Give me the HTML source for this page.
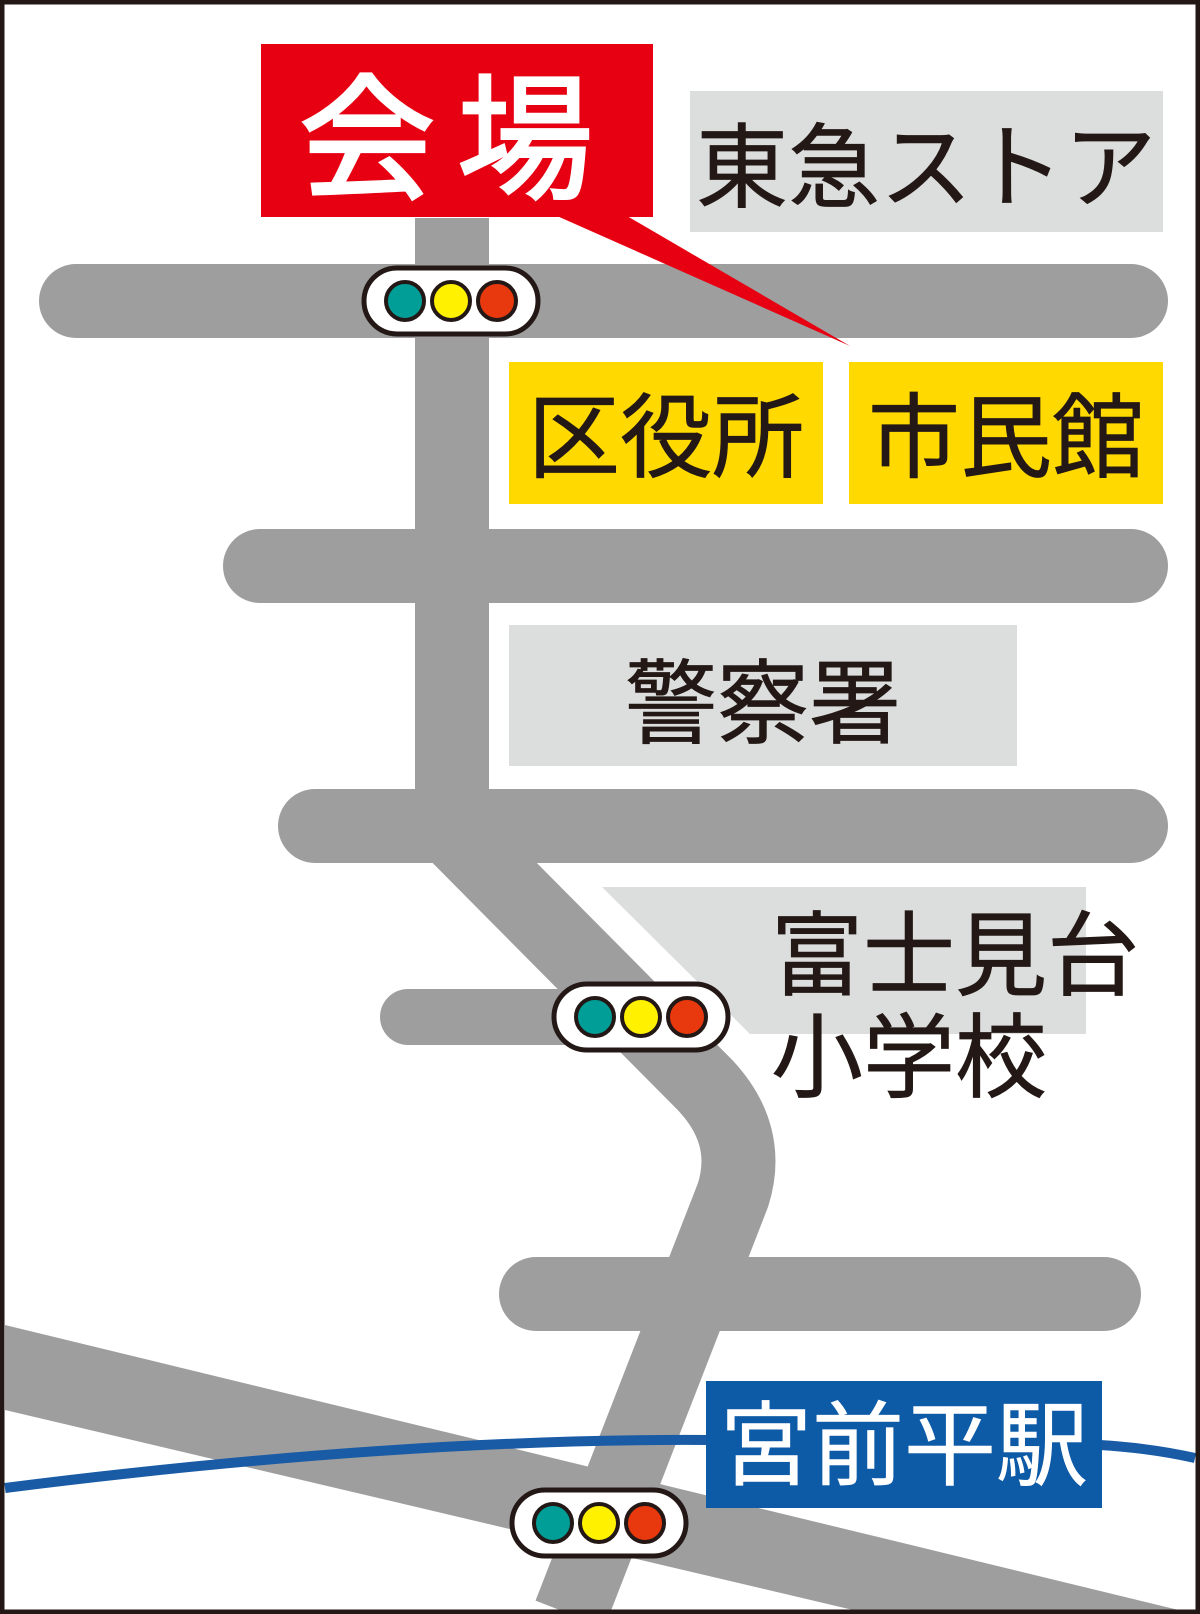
<!DOCTYPE html>
<html><head><meta charset="utf-8"><style>
html,body{margin:0;padding:0;background:#fff}
svg{display:block}
text{font-family:"Liberation Sans","Noto Sans CJK JP",sans-serif;font-weight:400}
.d{fill:#231815;stroke:#231815;stroke-width:0.8}
.w{fill:#fff;stroke:#fff;stroke-width:0.6}
</style></head><body>
<svg width="1200" height="1614" viewBox="0 0 1200 1614" xmlns="http://www.w3.org/2000/svg" style="position:absolute;left:0;top:0">
<rect x="0" y="0" width="1200" height="1614" fill="#fff"/>
<g stroke="#9e9e9e" stroke-linecap="round" fill="none">
<line x1="76" y1="301" x2="1131" y2="301" stroke-width="74"/>
<line x1="260" y1="566" x2="1131" y2="566" stroke-width="74"/>
<line x1="315" y1="826" x2="1131" y2="826" stroke-width="74"/>
<line x1="408" y1="1017" x2="700" y2="1017" stroke-width="56"/>
<line x1="536" y1="1294" x2="1104" y2="1294" stroke-width="74"/>
</g>
<path d="M452 218 V830 L705 1085 Q752 1135 733 1195 L570 1614" stroke="#9e9e9e" stroke-width="74" fill="none" stroke-linejoin="round"/>
<polygon points="5,1325 5,1410 870,1614 1195,1614" fill="#9e9e9e"/>
<path d="M5 1488 Q 400 1438 710 1440 L1100 1445 Q 1150 1448 1195 1458" stroke="#1a5ba6" stroke-width="10" fill="none"/>
<rect x="690" y="91" width="473" height="141" fill="#dcdddd"/>
<text x="926" y="200" font-size="92" text-anchor="middle" class="d">東急ストア</text>
<rect x="509" y="362" width="314" height="142" fill="#ffd900"/>
<text x="666" y="470" font-size="92" text-anchor="middle" class="d">区役所</text>
<rect x="849" y="362" width="314" height="142" fill="#ffd900"/>
<text x="1006" y="470" font-size="92" text-anchor="middle" class="d">市民館</text>
<rect x="509" y="625" width="508" height="141" fill="#dcdddd"/>
<text x="763" y="736" font-size="92" text-anchor="middle" class="d">警察署</text>
<polygon points="602,887 1086,887 1086,1034 750,1034" fill="#dcdddd"/>
<text x="771" y="988" font-size="92" class="d">富士見台</text>
<text x="771" y="1090" font-size="92" class="d">小学校</text>
<rect x="706" y="1381" width="396" height="127" fill="#0d5aa7"/>
<text x="904" y="1478" font-size="92" text-anchor="middle" class="w">宮前平駅</text>
<rect x="261" y="44" width="392" height="173" fill="#e60012"/>
<polygon points="557,216 627,216 850,346" fill="#e60012"/>
<text x="457" y="188" font-size="136" font-weight="bold" text-anchor="middle" fill="#fff" stroke="#fff" stroke-width="3" letter-spacing="22">会場</text>
<g transform="translate(451,301)" stroke="#231815">
<rect x="-87" y="-33" width="174" height="66" rx="33" fill="#fff" stroke-width="5"/>
<circle cx="-46" cy="0" r="19" fill="#009e96" stroke-width="4"/>
<circle cx="0" cy="0" r="19" fill="#fff100" stroke-width="4"/>
<circle cx="46" cy="0" r="19" fill="#e8380d" stroke-width="4"/>
</g>
<g transform="translate(641,1017)" stroke="#231815">
<rect x="-87" y="-33" width="174" height="66" rx="33" fill="#fff" stroke-width="5"/>
<circle cx="-46" cy="0" r="19" fill="#009e96" stroke-width="4"/>
<circle cx="0" cy="0" r="19" fill="#fff100" stroke-width="4"/>
<circle cx="46" cy="0" r="19" fill="#e8380d" stroke-width="4"/>
</g>
<g transform="translate(599,1523)" stroke="#231815">
<rect x="-87" y="-33" width="174" height="66" rx="33" fill="#fff" stroke-width="5"/>
<circle cx="-46" cy="0" r="19" fill="#009e96" stroke-width="4"/>
<circle cx="0" cy="0" r="19" fill="#fff100" stroke-width="4"/>
<circle cx="46" cy="0" r="19" fill="#e8380d" stroke-width="4"/>
</g>
<rect x="2" y="2" width="1196" height="1610" fill="none" stroke="#231815" stroke-width="5"/>
</svg>
</body></html>
